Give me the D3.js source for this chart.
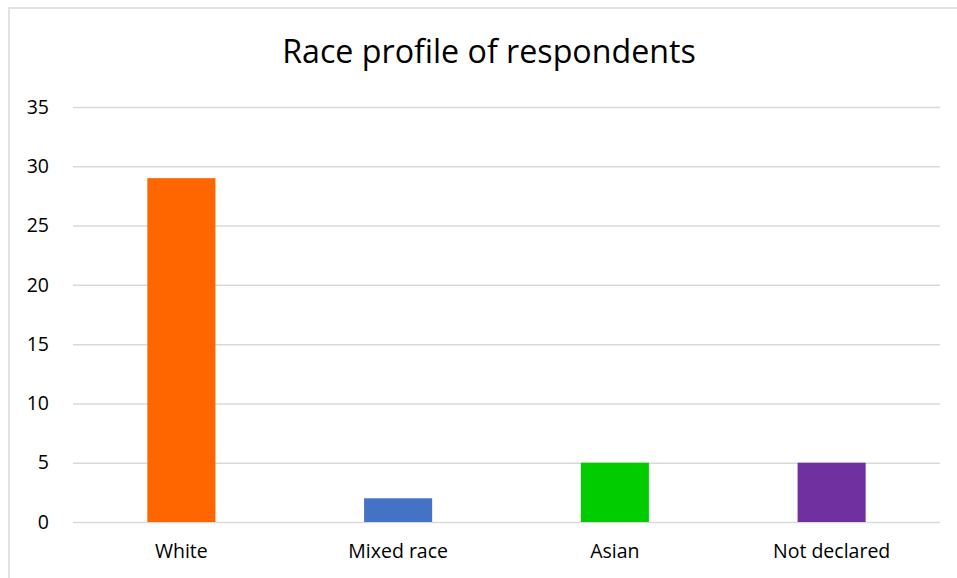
<!DOCTYPE html>
<html>
<head>
<meta charset="utf-8">
<script src="https://cdn.jsdelivr.net/npm/d3@7"></script>
<style>
  body { margin: 0; background: #fff; }
  svg { display: block; }
  svg text { font-family: "Open Sans", "Noto Sans", sans-serif; }
</style>
</head>
<body>
<svg id="chart" width="957" height="578"></svg>
<script>
// chart data
let categories = ["White", "Mixed race", "Asian", "Not declared"];
let counts = [29, 2, 5, 5];
let barColors = ["#ff6600", "#4472c4", "#00cc00", "#7030a0"];
let yTicks = [0, 5, 10, 15, 20, 25, 30, 35];

let svg = d3.select("#chart");

let margin = { top: 107, right: 17, bottom: 56, left: 73 };
let width = 957, height = 578;
let plotWidth = width - margin.left - margin.right;
let plotHeight = height - margin.top - margin.bottom;

// outer frame (right/bottom edges fall outside the window)
svg.append("rect")
  .attr("x", 9).attr("y", 8)
  .attr("width", 960).attr("height", 580)
  .attr("fill", "none")
  .attr("stroke", "#d9d9d9")
  .attr("stroke-width", 1.5);

svg.append("text")
  .attr("x", 489)
  .attr("y", 63)
  .attr("text-anchor", "middle")
  .attr("font-size", 32.2)
  .attr("fill", "#000")
  .text("Race profile of respondents");

let plot = svg.append("g")
  .attr("transform", "translate(" + margin.left + "," + margin.top + ")");

let x = d3.scaleBand()
  .domain(categories)
  .range([0, plotWidth])
  .paddingInner(0.686)
  .paddingOuter(0.343);

let y = d3.scaleLinear()
  .domain([0, 35])
  .range([plotHeight, 0]);

// gridlines
let yAxis = d3.axisLeft(y)
  .tickValues(yTicks)
  .tickSize(-plotWidth)
  .tickPadding(24);

let yGroup = plot.append("g").call(yAxis);
yGroup.select(".domain").remove();
yGroup.selectAll(".tick line")
  .attr("stroke", "#d9d9d9")
  .attr("stroke-width", 1.5);
yGroup.selectAll(".tick text")
  .attr("font-family", "'Open Sans', sans-serif")
  .attr("font-size", 19.5)
  .attr("fill", "#000");

plot.selectAll("rect.bar")
  .data(counts)
  .enter().append("rect")
  .attr("class", "bar")
  .attr("x", (d, i) => x(categories[i]))
  .attr("y", d => y(d))
  .attr("width", x.bandwidth())
  .attr("height", d => plotHeight - y(d))
  .attr("fill", (d, i) => barColors[i]);

let xAxis = d3.axisBottom(x).tickSize(0).tickPadding(22);
let xGroup = plot.append("g")
  .attr("transform", "translate(0," + plotHeight + ")")
  .call(xAxis);
xGroup.select(".domain").remove();
xGroup.selectAll(".tick text")
  .attr("font-family", "'Open Sans', sans-serif")
  .attr("font-size", 19.5)
  .attr("fill", "#000");
</script>
</body>
</html>
